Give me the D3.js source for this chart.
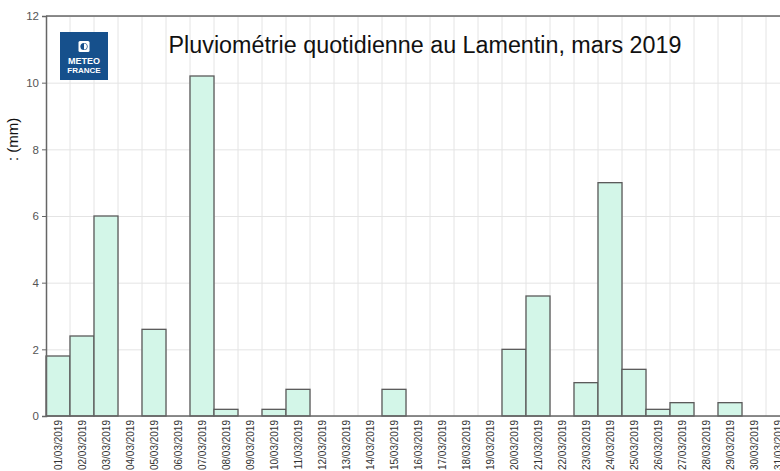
<!DOCTYPE html>
<html>
<head>
<meta charset="utf-8">
<script src="https://cdn.jsdelivr.net/npm/d3@7"></script>
<style>
  body { margin: 0; background: #fff; overflow: hidden; }
  svg { display: block; font-family: "Liberation Sans", Arial, sans-serif; }
</style>
</head>
<body>
<div id="chart"></div>
<script>
// daily rainfall, Le Lamentin, March 2019 (mm)
var days = ["01/03/2019", "02/03/2019", "03/03/2019", "04/03/2019", "05/03/2019", "06/03/2019",
    "07/03/2019", "08/03/2019", "09/03/2019", "10/03/2019", "11/03/2019", "12/03/2019",
    "13/03/2019", "14/03/2019", "15/03/2019", "16/03/2019", "17/03/2019", "18/03/2019",
    "19/03/2019", "20/03/2019", "21/03/2019", "22/03/2019", "23/03/2019", "24/03/2019",
    "25/03/2019", "26/03/2019", "27/03/2019", "28/03/2019", "29/03/2019", "30/03/2019",
    "31/03/2019"];
var rain = [1.8, 2.4, 6.0, 0, 2.6, 0, 10.2, 0.2, 0, 0.2, 0.8, 0, 0, 0, 0.8, 0, 0, 0, 0,
    2.0, 3.6, 0, 1.0, 7.0, 1.4, 0.2, 0.4, 0, 0.4, 0, 0];
var yTicks = [0, 2, 4, 6, 8, 10, 12];

var W = 780, H = 471;
var margin = { top: 16, left: 46, bottom: 55 };
var bandW = 24;
var plotH = H - margin.top - margin.bottom;

var svg = d3.select("#chart").append("svg")
    .attr("width", W)
    .attr("height", H);

var x = d3.scaleBand()
    .domain(days)
    .range([margin.left, margin.left + bandW * days.length])
    .paddingInner(0)
    .paddingOuter(0);

var y = d3.scaleLinear()
    .domain([0, 12])
    .range([margin.top + plotH, margin.top]);

// grid
var grid = svg.append("g").attr("class", "grid");
grid.selectAll(".vgrid")
    .data(days)
    .enter()
    .append("line")
    .attr("x1", function (d) { return x(d) + bandW; })
    .attr("x2", function (d) { return x(d) + bandW; })
    .attr("y1", y(12))
    .attr("y2", y(0))
    .attr("stroke", "#e4e4e4")
    .attr("stroke-width", 1);

grid.selectAll(".hgrid")
    .data(yTicks)
    .enter()
    .append("line")
    .attr("x1", margin.left)
    .attr("x2", W)
    .attr("y1", function (d) { return y(d) + 0.5; })
    .attr("y2", function (d) { return y(d) + 0.5; })
    .attr("stroke", "#e4e4e4")
    .attr("stroke-width", 1);

// logo
var logo = svg.append("g").attr("transform", "translate(60,32)");
logo.append("rect")
    .attr("width", 48)
    .attr("height", 48)
    .attr("fill", "#16508c");
logo.append("rect")
    .attr("x", 18.5)
    .attr("y", 9)
    .attr("width", 11)
    .attr("height", 11)
    .attr("rx", 1.5)
    .attr("fill", "#fff");
logo.append("circle")
    .attr("cx", 24)
    .attr("cy", 14.5)
    .attr("r", 3.6)
    .attr("fill", "#16508c");
logo.append("path")
    .attr("d", "M24,11.6 A2.9,2.9 0 0 1 24,17.4 Z")
    .attr("fill", "#fff");
logo.append("text")
    .attr("x", 24)
    .attr("y", 32)
    .attr("text-anchor", "middle")
    .attr("font-size", "9px")
    .attr("font-weight", "bold")
    .attr("fill", "#fff")
    .text("METEO");
logo.append("text")
    .attr("x", 24)
    .attr("y", 40.5)
    .attr("text-anchor", "middle")
    .attr("font-size", "8px")
    .attr("font-weight", "bold")
    .attr("fill", "#fff")
    .text("FRANCE");

// bars
svg.selectAll(".bar")
    .data(rain)
    .enter()
    .append("rect")
    .attr("class", "bar")
    .attr("x", function (d, i) { return x(days[i]); })
    .attr("y", function (d) { return y(d); })
    .attr("width", bandW)
    .attr("height", function (d) { return y(0) - y(d); })
    .attr("fill", "#d3f6e8")
    .attr("stroke", function (d) { return d > 0 ? "#5a5a5a" : "none"; })
    .attr("stroke-width", 1.3);

// frame
svg.append("line")
    .attr("x1", margin.left).attr("x2", W)
    .attr("y1", y(12)).attr("y2", y(12))
    .attr("stroke", "#666").attr("stroke-width", 1.5);
svg.append("line")
    .attr("x1", margin.left).attr("x2", W)
    .attr("y1", y(0)).attr("y2", y(0))
    .attr("stroke", "#666").attr("stroke-width", 1.5);

// y axis
var yAxis = svg.append("g")
    .attr("transform", "translate(" + margin.left + ",0)")
    .call(d3.axisLeft(y).tickValues(yTicks).tickSize(4).tickPadding(3).tickFormat(d3.format("d")));
yAxis.select(".domain").attr("stroke", "#666").attr("stroke-width", 1.5);
yAxis.selectAll(".tick line").attr("stroke", "#666");
yAxis.selectAll(".tick text")
    .attr("font-size", "11.5px")
    .attr("font-family", "Liberation Sans, Arial, sans-serif")
    .attr("fill", "#555");

// x labels (the last one runs past the right edge, as in the source image)
svg.selectAll(".xlab")
    .data(days)
    .enter()
    .append("text")
    .attr("class", "xlab")
    .attr("transform", function (d) {
        return "translate(" + (x(d) + bandW / 2) + "," + (y(0) + 4) + ") rotate(-90)";
    })
    .attr("text-anchor", "end")
    .attr("dy", "0.35em")
    .attr("font-size", "10px")
    .attr("fill", "#333")
    .text(function (d) { return d; });

// y label
svg.append("text")
    .attr("transform", "translate(18,161) rotate(-90)")
    .attr("text-anchor", "start")
    .attr("font-size", "15px")
    .attr("fill", "#111")
    .text(": (mm)");

// title
svg.append("text")
    .attr("x", 425)
    .attr("y", 53)
    .attr("text-anchor", "middle")
    .attr("font-size", "23.3px")
    .attr("fill", "#111")
    .text("Pluviométrie quotidienne au Lamentin, mars 2019");
</script>
</body>
</html>
